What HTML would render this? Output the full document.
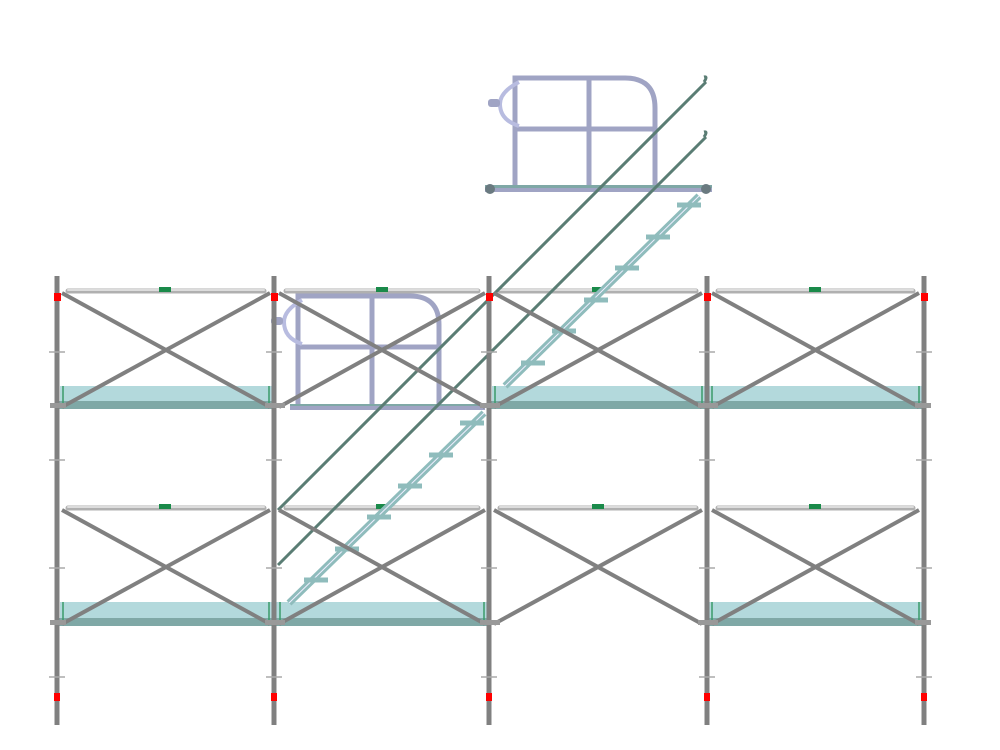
<!DOCTYPE html>
<html><head><meta charset="utf-8"><style>html,body{margin:0;padding:0;background:#fff}svg{display:block}</style></head>
<body>
<svg width="1000" height="750" viewBox="0 0 1000 750" xmlns="http://www.w3.org/2000/svg">
<defs>
<g id="tread"><rect x="-12" y="-2.5" width="24" height="5" fill="#8fbcbc"/></g>
</defs>
<!-- decks -->
<g>
 <rect x="60" y="386" width="212" height="17" fill="#b3d9dc"/><rect x="58" y="401" width="216" height="8" fill="#7fa8a6"/>
 <rect x="492" y="386" width="213" height="17" fill="#b3d9dc"/><rect x="490" y="401" width="217" height="8" fill="#7fa8a6"/>
 <rect x="709" y="386" width="213" height="17" fill="#b3d9dc"/><rect x="707" y="401" width="217" height="8" fill="#7fa8a6"/>
 <rect x="60" y="602" width="212" height="18" fill="#b3d9dc"/><rect x="58" y="618" width="216" height="8" fill="#7fa8a6"/>
 <rect x="276" y="602" width="211" height="18" fill="#b3d9dc"/><rect x="274" y="618" width="215" height="8" fill="#7fa8a6"/>
 <rect x="709" y="602" width="213" height="18" fill="#b3d9dc"/><rect x="707" y="618" width="217" height="8" fill="#7fa8a6"/>
 <g stroke="#3a9a6a" stroke-width="1.5">
  <line x1="63" y1="386" x2="63" y2="403"/><line x1="269" y1="386" x2="269" y2="403"/>
  <line x1="495" y1="386" x2="495" y2="403"/><line x1="702" y1="386" x2="702" y2="403"/>
  <line x1="712" y1="386" x2="712" y2="403"/><line x1="919" y1="386" x2="919" y2="403"/>
  <line x1="63" y1="602" x2="63" y2="620"/><line x1="269" y1="602" x2="269" y2="620"/>
  <line x1="280" y1="602" x2="280" y2="620"/><line x1="484" y1="602" x2="484" y2="620"/>
  <line x1="712" y1="602" x2="712" y2="620"/><line x1="919" y1="602" x2="919" y2="620"/>
 </g>
</g>
<!-- gates -->
<g fill="none" stroke="#a0a4c4" stroke-width="5">
 <path d="M515 188 V78 H625 Q655 78 655 108 V188"/>
 <line x1="589" y1="78" x2="589" y2="188"/><line x1="515" y1="129" x2="655" y2="129"/>
 <path d="M298 406 V296 H410 Q439 296 439 325 V406"/>
 <line x1="372" y1="296" x2="372" y2="406"/><line x1="298" y1="347" x2="439" y2="347"/>
</g>
<g fill="none" stroke="#b8bce0" stroke-width="4">
 <path d="M519 82 Q500 92 500 104 Q500 120 519 126"/>
 <path d="M302 300 Q284 310 284 322 Q284 338 302 344"/>
</g>
<g fill="#a0a4c4"><rect x="488" y="99" width="12" height="8" rx="3"/><rect x="271" y="317" width="12" height="8" rx="3"/></g>
<rect x="485" y="185" width="227" height="7" fill="#a0a4c4"/><rect x="485" y="185" width="227" height="3" fill="#7fa8a6"/>
<rect x="290" y="404" width="195" height="6" fill="#a0a4c4"/><rect x="290" y="404" width="195" height="2" fill="#7fa8a6"/>
<circle cx="490" cy="189" r="5" fill="#6a7a80"/><circle cx="706" cy="189" r="5" fill="#6a7a80"/>
<!-- ledgers top -->
<g stroke="#b0b0b0" stroke-width="5" stroke-linecap="round">
 <line x1="68" y1="291" x2="264" y2="291"/><line x1="286" y1="291" x2="478" y2="291"/>
 <line x1="500" y1="291" x2="696" y2="291"/><line x1="718" y1="291" x2="913" y2="291"/>
 <line x1="68" y1="508" x2="264" y2="508"/><line x1="286" y1="508" x2="478" y2="508"/>
 <line x1="500" y1="508" x2="696" y2="508"/><line x1="718" y1="508" x2="913" y2="508"/>
</g>
<g stroke="#dcdcdc" stroke-width="2" stroke-linecap="round">
 <line x1="68" y1="290" x2="264" y2="290"/><line x1="286" y1="290" x2="478" y2="290"/>
 <line x1="500" y1="290" x2="696" y2="290"/><line x1="718" y1="290" x2="913" y2="290"/>
 <line x1="68" y1="507" x2="264" y2="507"/><line x1="286" y1="507" x2="478" y2="507"/>
 <line x1="500" y1="507" x2="696" y2="507"/><line x1="718" y1="507" x2="913" y2="507"/>
</g>
<g fill="#1a8a4a">
 <rect x="159" y="287" width="12" height="5"/><rect x="376" y="287" width="12" height="5"/><rect x="592" y="287" width="12" height="5"/><rect x="809" y="287" width="12" height="5"/>
 <rect x="159" y="504" width="12" height="5"/><rect x="376" y="504" width="12" height="5"/><rect x="592" y="504" width="12" height="5"/><rect x="809" y="504" width="12" height="5"/>
</g>
<!-- stairs -->
<g stroke="#8fbcbc" stroke-width="7"><line x1="289" y1="603" x2="484" y2="413"/><line x1="505" y1="386" x2="699" y2="196"/></g>
<g stroke="#eef" stroke-width="1"><line x1="289" y1="603" x2="484" y2="413"/><line x1="505" y1="386" x2="699" y2="196"/></g>
<g>
 <use href="#tread" x="316" y="580"/><use href="#tread" x="347" y="549"/><use href="#tread" x="379" y="517"/><use href="#tread" x="410" y="486"/><use href="#tread" x="441" y="455"/><use href="#tread" x="472" y="423"/>
 <use href="#tread" x="533" y="363"/><use href="#tread" x="564" y="331"/><use href="#tread" x="596" y="300"/><use href="#tread" x="627" y="268"/><use href="#tread" x="658" y="237"/><use href="#tread" x="689" y="205"/>
</g>
<!-- handrails -->
<g stroke="#5a7d74" stroke-width="3" fill="none">
 <line x1="278" y1="510" x2="706" y2="82"/><line x1="278" y1="565" x2="706" y2="137"/>
 <path d="M704 82 q4 -6 0 -5"/><path d="M704 137 q4 -6 0 -5"/>
</g>
<!-- diagonals -->
<g stroke="#808080" stroke-width="4">
 <line x1="62" y1="293" x2="270" y2="407"/><line x1="62" y1="407" x2="270" y2="293"/>
 <line x1="279" y1="293" x2="485" y2="407"/><line x1="279" y1="407" x2="485" y2="293"/>
 <line x1="494" y1="293" x2="702" y2="407"/><line x1="494" y1="407" x2="702" y2="293"/>
 <line x1="712" y1="293" x2="919" y2="407"/><line x1="712" y1="407" x2="919" y2="293"/>
 <line x1="62" y1="510" x2="270" y2="624"/><line x1="62" y1="624" x2="270" y2="510"/>
 <line x1="279" y1="510" x2="485" y2="624"/><line x1="279" y1="624" x2="485" y2="510"/>
 <line x1="494" y1="510" x2="702" y2="624"/><line x1="494" y1="624" x2="702" y2="510"/>
 <line x1="712" y1="510" x2="919" y2="624"/><line x1="712" y1="624" x2="919" y2="510"/>
</g>
<!-- posts -->
<g stroke="#808080" stroke-width="5">
 <line x1="57" y1="276" x2="57" y2="725"/><line x1="274" y1="276" x2="274" y2="725"/><line x1="489" y1="276" x2="489" y2="725"/><line x1="707" y1="276" x2="707" y2="725"/><line x1="924" y1="276" x2="924" y2="725"/>
</g>
<g stroke="#aaa" stroke-width="1.5">
 <path d="M49 352h16M266 352h16M481 352h16M699 352h16M916 352h16"/>
 <path d="M49 460h16M266 460h16M481 460h16M699 460h16M916 460h16"/>
 <path d="M49 568h16M266 568h16M481 568h16M699 568h16M916 568h16"/>
 <path d="M49 677h16M266 677h16M481 677h16M699 677h16M916 677h16"/>
</g>
<g fill="#ff0000">
 <rect x="54" y="293" width="7" height="8"/><rect x="271" y="293" width="7" height="8"/><rect x="486" y="293" width="7" height="8"/><rect x="704" y="293" width="7" height="8"/><rect x="921" y="293" width="7" height="8"/>
 <rect x="54" y="693" width="6" height="8"/><rect x="271" y="693" width="6" height="8"/><rect x="486" y="693" width="6" height="8"/><rect x="704" y="693" width="6" height="8"/><rect x="921" y="693" width="6" height="8"/>
</g>
<g fill="#999">
 <rect x="50" y="403" width="16" height="5"/><rect x="265" y="403" width="20" height="5"/><rect x="480" y="403" width="20" height="5"/><rect x="698" y="403" width="20" height="5"/><rect x="915" y="403" width="16" height="5"/>
 <rect x="50" y="620" width="16" height="5"/><rect x="265" y="620" width="20" height="5"/><rect x="480" y="620" width="20" height="5"/><rect x="698" y="620" width="20" height="5"/><rect x="915" y="620" width="16" height="5"/>
</g>
</svg>
</body></html>
